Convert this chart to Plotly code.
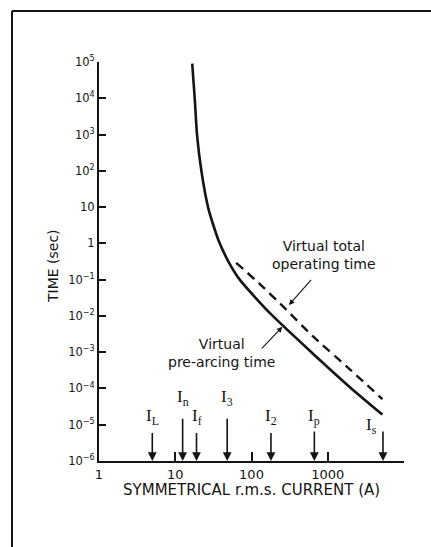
import numpy as np
import plotly.graph_objects as go

W, H = 431, 547
ML, MR, MT, MB = 99, 27, 62, 86

# Virtual pre-arcing time curve (solid)
pre_I = [16.7, 18.0, 19.3, 22.0, 26.9, 31.6, 38.3, 49.8, 70, 113, 190, 610, 2040, 5200]
pre_t = [9e4, 1e4, 1e3, 1e2, 10, 3.16, 1, 0.316, 0.1, 0.0316, 0.01, 1e-3, 1e-4, 1.9e-5]
# Virtual total operating time curve (dashed)
tot_I = [63, 126, 257, 631, 2000, 5200]
tot_t = [0.29, 0.079, 0.0186, 2.8e-3, 3.2e-4, 5.1e-5]

# Characteristic currents marked on the current axis
mark_labels = ['I<sub>L</sub>', 'I<sub>n</sub>', 'I<sub>f</sub>', 'I<sub>3</sub>',
               'I<sub>2</sub>', 'I<sub>p</sub>', 'I<sub>s</sub>']
mark_I = [5, 12.5, 19, 48, 180, 667, 5300]
mark_top = [6.5e-6, 1.6e-5, 6.5e-6, 1.6e-5, 6.5e-6, 7.2e-6, 7.2e-6]
label_I = [5, 12.5, 19, 48, 180, 667, 3800]
label_t = [1.66e-5, 5.4e-5, 1.66e-5, 5.4e-5, 1.66e-5, 1.66e-5, 9.5e-6]

y_tickvals = [1e5, 1e4, 1e3, 1e2, 10, 1, 1e-1, 1e-2, 1e-3, 1e-4, 1e-5, 1e-6]
y_ticktext = ['10<sup>5</sup>', '10<sup>4</sup>', '10<sup>3</sup>', '10<sup>2</sup>', '10', '1',
              '10<sup>−1</sup>', '10<sup>−2</sup>', '10<sup>−3</sup>', '10<sup>−4</sup>',
              '10<sup>−5</sup>', '10<sup>−6</sup>']
x_tickvals = [1, 10, 100, 1000, 10000]
x_ticktext = ['1', '10', '100', '1000', '']

INK = '#141414'
SANS = 'DejaVu Sans'
SERIF = 'Liberation Serif'

fig = go.Figure()
fig.add_trace(go.Scatter(x=pre_I, y=pre_t, mode='lines',
                         line=dict(color=INK, width=2.6, shape='spline', smoothing=0.6),
                         showlegend=False, hoverinfo='skip'))
fig.add_trace(go.Scatter(x=tot_I, y=tot_t, mode='lines',
                         line=dict(color=INK, width=2.4, dash='9px,6px', shape='spline', smoothing=0.5),
                         showlegend=False, hoverinfo='skip'))

ann = []
for xi, top in zip(mark_I, mark_top):
    ann.append(dict(x=np.log10(xi), y=-6, ax=np.log10(xi), ay=np.log10(top),
                    xref='x', yref='y', axref='x', ayref='y', text='', showarrow=True,
                    arrowhead=2, arrowsize=1.1, arrowwidth=1.6, arrowcolor=INK))
for lab, xi, yt in zip(mark_labels, label_I, label_t):
    ann.append(dict(x=np.log10(xi), y=np.log10(yt), xref='x', yref='y', text=lab,
                    xanchor='center', yanchor='middle',
                    showarrow=False, font=dict(family=SERIF, size=17, color=INK)))

# curve annotations
ann.append(dict(x=np.log10(880), y=np.log10(0.47), xref='x', yref='y',
                xanchor='center', yanchor='middle',
                text='Virtual total<br>operating time', showarrow=False,
                font=dict(family=SANS, size=14, color=INK), align='center'))
ann.append(dict(x=np.log10(310), y=np.log10(0.02), ax=np.log10(630), ay=np.log10(0.108),
                xref='x', yref='y', axref='x', ayref='y', text='', showarrow=True,
                arrowhead=2, arrowsize=1, arrowwidth=1.1, arrowcolor=INK))
ann.append(dict(x=np.log10(41), y=np.log10(9.5e-4), xref='x', yref='y',
                xanchor='center', yanchor='middle',
                text='Virtual<br>pre-arcing time', showarrow=False,
                font=dict(family=SANS, size=14, color=INK), align='center'))
ann.append(dict(x=np.log10(254), y=np.log10(0.005), ax=np.log10(131), ay=np.log10(1.15e-3),
                xref='x', yref='y', axref='x', ayref='y', text='', showarrow=True,
                arrowhead=2, arrowsize=1, arrowwidth=1.1, arrowcolor=INK))

# axis titles
pw = W - ML - MR
ph = H - MT - MB


def px(xp):
    return (xp - ML) / pw


def py(yp):
    return (H - MB - yp) / ph


ann.append(dict(x=px(251), y=py(490), xref='paper', yref='paper',
                xanchor='center', yanchor='middle',
                text='SYMMETRICAL r.m.s. CURRENT (A)', showarrow=False,
                font=dict(family=SANS, size=15, color=INK)))
ann.append(dict(x=px(53), y=py(266), xref='paper', yref='paper',
                xanchor='center', yanchor='middle',
                text='TIME (sec)', textangle=-90, showarrow=False,
                font=dict(family=SANS, size=14, color=INK)))

# frame (top and left border of the figure)
shapes = [
    dict(type='line', xref='paper', yref='paper', x0=px(12), x1=px(431), y0=py(11), y1=py(11),
         line=dict(color=INK, width=2)),
    dict(type='line', xref='paper', yref='paper', x0=px(12), x1=px(12), y0=py(11), y1=py(547),
         line=dict(color=INK, width=2)),
]

fig.update_layout(
    width=W, height=H, margin=dict(l=ML, r=MR, t=MT, b=MB),
    paper_bgcolor='white', plot_bgcolor='white',
    annotations=ann, shapes=shapes,
    xaxis=dict(type='log', range=[0, 4], showgrid=False, zeroline=False,
               showline=True, linecolor=INK, linewidth=2,
               ticks='inside', ticklen=9, tickwidth=2, tickcolor=INK,
               tickvals=x_tickvals, ticktext=x_ticktext,
               tickfont=dict(family=SANS, size=13, color=INK)),
    yaxis=dict(type='log', range=[-6, 5], showgrid=False, zeroline=False,
               showline=True, linecolor=INK, linewidth=2,
               ticks='inside', ticklen=7, tickwidth=2, tickcolor=INK,
               tickvals=y_tickvals, ticktext=y_ticktext,
               tickfont=dict(family=SANS, size=11.5, color=INK)),
)

fig.write_html('out.html')
